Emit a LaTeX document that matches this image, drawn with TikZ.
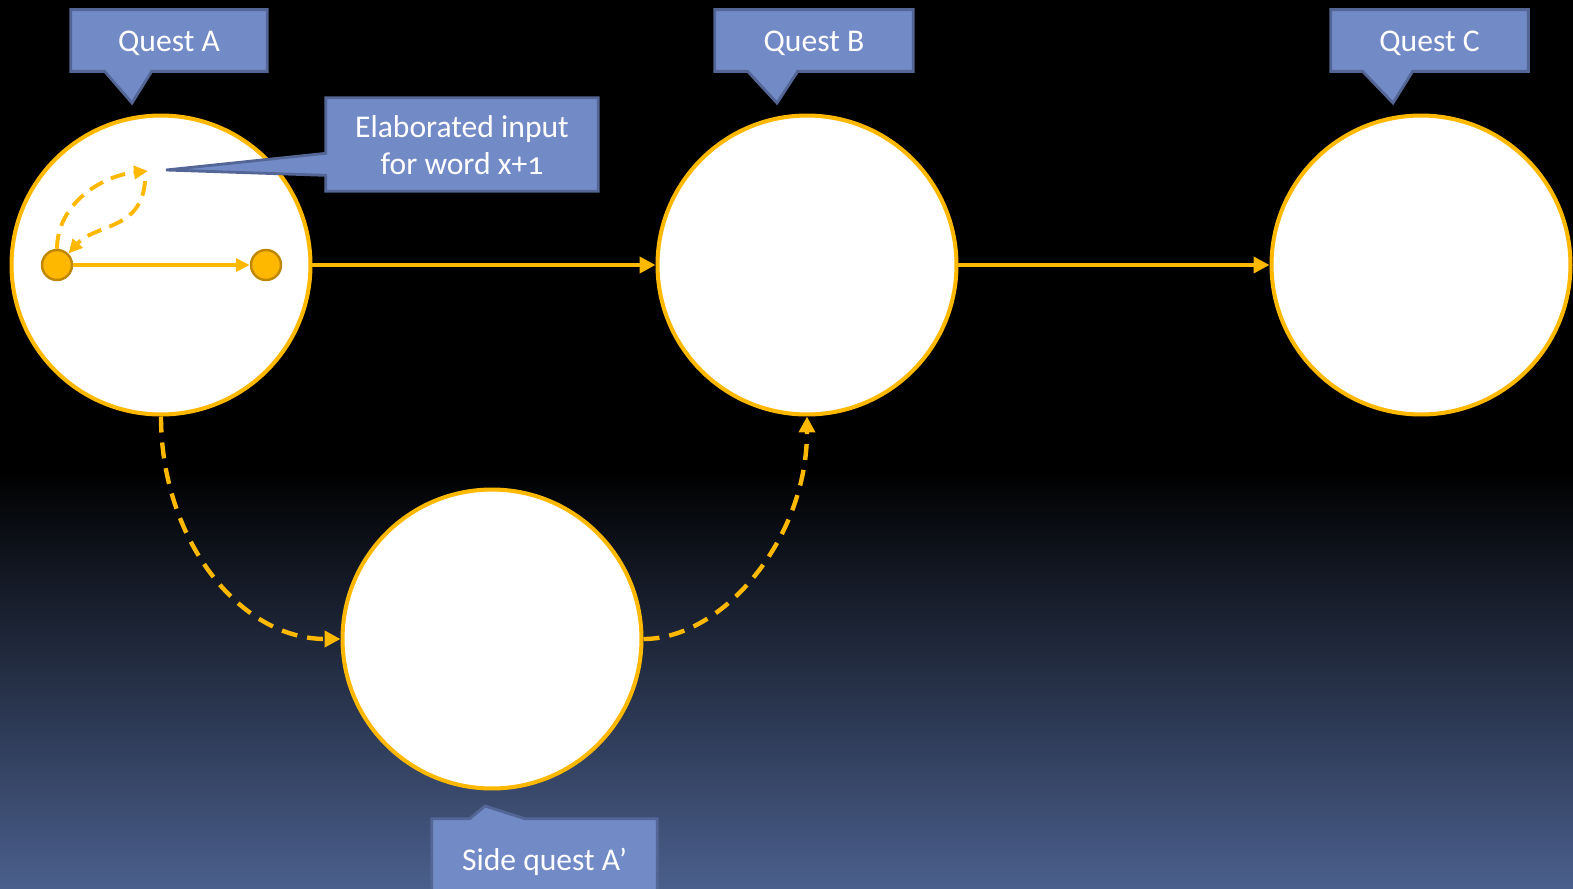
\documentclass[tikz,border=0pt]{standalone}
\usepackage{fontspec}
\setmainfont{Carlito}[Numbers=OldStyle]
\usepackage{tikz}
\usetikzlibrary{positioning,arrows.meta,calc}
\usepackage{xcolor}

\definecolor{gold}{RGB}{255,184,0}
\definecolor{darkgold}{RGB}{191,136,0}
\definecolor{calloutblue}{RGB}{114,138,198}
\definecolor{calloutedge}{RGB}{84,102,150}
\definecolor{nightblue}{RGB}{74,95,140}

\begin{document}
\begin{tikzpicture}[
    x=0.02cm, y=-0.02cm,
    quest/.style={circle, draw=gold, line width=2.3pt, fill=white, minimum size=5.98cm, inner sep=0pt},
    token/.style={circle, draw=darkgold, line width=1.4pt, fill=gold, minimum size=0.6cm, inner sep=0pt},
    frame/.style={minimum width=#1, minimum height=1.22cm, inner sep=0pt},
    tagtext/.style={text=white, align=center, font=\fontsize{18}{21}\selectfont},
    callout/.style={fill=calloutblue, draw=calloutedge, line width=1.6pt},
    flow/.style={-{Triangle[length=0.32cm,width=0.32cm]}, draw=gold, line width=2.5pt},
    side/.style={flow, dash pattern=on 0.32cm off 0.2cm},
    inner/.style={-{Triangle[length=0.28cm,width=0.26cm]}, draw=gold, line width=2.2pt}
]
\clip (0,0) rectangle (1573,889);

% night sky background
\fill[black] (0,0) rectangle (1573,471);
\shade[top color=black, bottom color=nightblue] (0,470) rectangle (1573,889);

% quests
\node[quest] (questA) at (161,265) {};
\node[quest] (questB) at (807,265) {};
\node[quest] (questC) at (1421,265) {};
\node[quest] (sideA)  at (492,639) {};

% words inside quest A
\node[token] (wordL) at (57,265) {};
\node[token] (wordR) at (266,265) {};
\coordinate (elab) at (148,171);
\coordinate (back) at (145,181);

\draw[inner] (wordL) -- (wordR);
\draw[inner, dash pattern=on 0.3cm off 0.17cm]
    (wordL.north) .. controls (57,205) and (100,176) .. (elab);
\draw[inner, dash pattern=on 0.3cm off 0.17cm]
    (back) .. controls (142,230) and (95,224) .. (wordL.north east);

% main line and the detour
\draw[flow] (questA) -- (questB);
\draw[flow] (questB) -- (questC);
\draw[side] (questA.south) .. controls (161,540) and (240,639) .. (sideA.west);
\draw[side] (sideA.east) .. controls (722,639) and (807,540) .. (questB.south);

% callouts
\node[frame=3.92cm] (tagA) at (169,40.5) {};
\node[frame=3.96cm] (tagB) at (814,40.5) {};
\node[frame=3.94cm] (tagC) at (1429.5,40.5) {};
\node[frame=5.44cm, minimum height=1.86cm] (tagE) at (462,144.5) {};
\node[frame=4.5cm, minimum height=1.6cm] (tagS) at (544.5,859) {};

\coordinate (tipA) at (132,103);
\coordinate (tipB) at (777,103);
\coordinate (tipC) at (1393,103);
\coordinate (tipE) at (166,170);
\coordinate (tipS) at (485,806);

\filldraw[callout] (tagA.south west) -- (tagA.north west) -- (tagA.north east) -- (tagA.south east)
    -- ($(tagA.south west)+(81,0)$) -- (tipA) -- ($(tagA.south west)+(34,0)$) -- cycle;
\filldraw[callout] (tagB.south west) -- (tagB.north west) -- (tagB.north east) -- (tagB.south east)
    -- ($(tagB.south west)+(83,0)$) -- (tipB) -- ($(tagB.south west)+(33,0)$) -- cycle;
\filldraw[callout] (tagC.south west) -- (tagC.north west) -- (tagC.north east) -- (tagC.south east)
    -- ($(tagC.south west)+(82,0)$) -- (tipC) -- ($(tagC.south west)+(32,0)$) -- cycle;
\filldraw[callout] (tagE.south west) -- ($(tagE.south west)+(0,-16)$) -- (tipE) -- ($(tagE.south west)+(0,-38)$)
    -- (tagE.north west) -- (tagE.north east) -- (tagE.south east) -- cycle;
\filldraw[callout] (tagS.south west) -- (tagS.north west) -- ($(tagS.north west)+(38,0)$) -- (tipS)
    -- ($(tagS.north west)+(93,0)$) -- (tagS.north east) -- (tagS.south east) -- cycle;

\node[tagtext] (nameA) at ($(tagA)+(0,3)$) {Quest A};
\node[tagtext] (nameB) at ($(tagB)+(0,3)$) {Quest B};
\node[tagtext] (nameC) at ($(tagC)+(0,3)$) {Quest C};
\node[tagtext] (nameE) at ($(tagE)+(0,1)$) {Elaborated input\\for word x+1};
\node[tagtext] (nameS) at ($(tagS)+(0,3)$) {Side quest A’};
\end{tikzpicture}
\end{document}
